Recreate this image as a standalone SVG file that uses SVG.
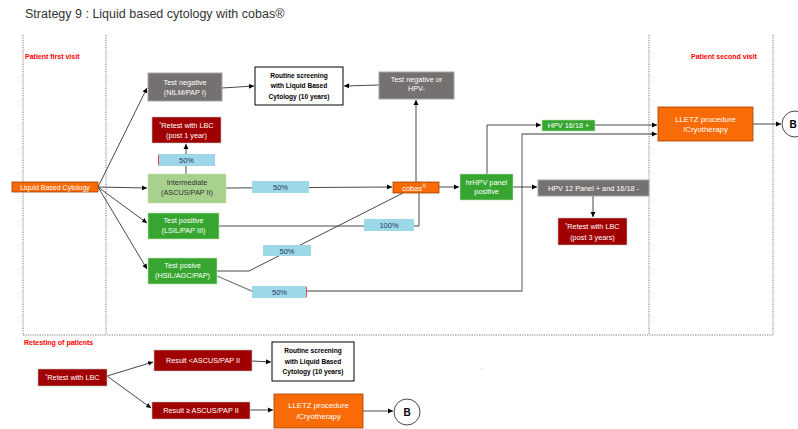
<svg xmlns="http://www.w3.org/2000/svg" width="798" height="429" viewBox="0 0 798 429">
<style>
text{font-family:"Liberation Sans",Arial,sans-serif}
.t{font-size:7.3px;fill:#fff;text-anchor:middle}
.k{font-size:6.6px;fill:#000;font-weight:bold;text-anchor:middle}
.p{font-size:7.5px;fill:#1f3864;text-anchor:middle}
.red{font-size:7px;fill:#ff0000;font-weight:bold}
.gray{fill:#767171;stroke:#a6a6a6;stroke-width:1}
.dred{fill:#a00000;stroke:#c0c0c0;stroke-width:0.6}
.lgrn{fill:#a9d18e;stroke:#c5e0b4;stroke-width:0.6}
.grn{fill:#36a630;stroke:#c5e0b4;stroke-width:0.6}
.org{fill:#f96b07;stroke:#a04000;stroke-width:0.8}
.wht{fill:#fff;stroke:#000;stroke-width:1}
.blu{fill:#9dd8e9}
.dot{fill:none;stroke:#555;stroke-width:0.8;stroke-dasharray:1.2 1.2}
.c{fill:none;stroke:#333;stroke-width:0.9}
.cg{fill:none;stroke:#7f7f7f;stroke-width:1.3}
.a{marker-end:url(#ah)}
</style>
<defs>
<marker id="ah" markerWidth="6" markerHeight="6" refX="5" refY="3" orient="auto" markerUnits="userSpaceOnUse">
<path d="M0,0.5 L5,3 L0,5.5 z" fill="#000"/>
</marker>
</defs>
<rect width="798" height="429" fill="#fff"/>
<text x="25" y="18" style="font-size:12.5px;fill:#333">Strategy 9 : Liquid based cytology with cobas®</text>
<g id="frame">
<line class="dot" x1="23" y1="35" x2="23" y2="335"/>
<line class="dot" x1="106" y1="35" x2="106" y2="335"/>
<line class="dot" x1="649" y1="35" x2="649" y2="335"/>
<line class="dot" x1="773" y1="35" x2="773" y2="335"/>
<line class="dot" x1="23" y1="335" x2="773" y2="335"/>
<text class="red" x="25" y="59">Patient first visit</text>
<text class="red" x="691" y="59">Patient second visit</text>
<text class="red" x="24" y="345">Retesting of patients</text>
<text x="481" y="369" style="font-size:6px;fill:#555">.</text>
</g>
<g id="connectors">
<path class="c a" d="M98,187 L147,88"/>
<path class="c a" d="M98,187 L147,188"/>
<path class="c a" d="M98,187 L147,223"/>
<path class="c a" d="M98,187 L147,269"/>
<path class="c a" d="M222,88 L254,86"/>
<path class="c a" d="M379,85 L344,86"/>
<path class="c a" d="M186,174 L186,144"/>
<path class="c a" d="M226,188 L392,187"/>
<path class="c" d="M219,226 L419,226 L419,193"/>
<path class="c" d="M217,271 L249,271 L403,193"/>
<path class="c a" d="M416,182 L416,100"/>
<path class="c a" d="M439,187 L459,187"/>
<path class="cg" d="M217,276 L252,291 L522,291 L522,134 L652,134"/>
<path class="c a" d="M650,134 L657,134"/>
<path class="c a" d="M487,174 L487,125 L541,125"/>
<path class="c a" d="M595,125 L657,125"/>
<path class="c a" d="M513,187 L537,187"/>
<path class="c a" d="M593,196 L593,217"/>
<path class="c a" d="M753,124 L781,124"/>
<path class="c a" d="M107,376 L153,362"/>
<path class="c a" d="M107,376 L151,408"/>
<path class="c a" d="M252,361 L271,362"/>
<path class="c a" d="M250,410 L273,410"/>
<path class="c a" d="M363,411 L393,411"/>
</g>
<g id="lbc"><rect class="org" x="12" y="182" width="86" height="10"/><text class="t" x="55" y="189.5" style="font-size:7px">Liquid Based Cytology</text></g>
<g id="neg"><rect class="gray" x="148" y="73" width="74" height="28"/><text class="t" x="185" y="85">Test negative</text><text class="t" x="185" y="95">(NILM/PAP I)</text></g>
<g id="routine1"><rect class="wht" x="255" y="67" width="88" height="38"/><text class="k" x="299" y="78">Routine screening</text><text class="k" x="299" y="88">with Liquid Based</text><text class="k" x="299" y="98.5">Cytology (10 years)</text></g>
<g id="neghpv"><rect class="gray" x="379" y="72" width="75" height="27"/><text class="t" x="416.5" y="82">Test negative or</text><text class="t" x="416.5" y="91">HPV-</text></g>
<g id="retest1"><rect class="dred" x="152" y="117" width="69" height="26"/><text class="t" x="186.5" y="128"><tspan font-size="5" dy="-2">*</tspan><tspan dy="2">Retest with LBC</tspan></text><text class="t" x="186.5" y="138">(post 1 year)</text></g>
<g id="p50a"><rect class="blu" x="158" y="154" width="57" height="12"/><line x1="158.5" y1="155" x2="158.5" y2="165" stroke="#e05050" stroke-width="1"/><text class="p" x="186.5" y="163">50%</text></g>
<g id="inter"><rect class="lgrn" x="148" y="174" width="78" height="29"/><text class="t" x="187" y="185" style="fill:#333">Intermediate</text><text class="t" x="187" y="195" style="fill:#333">(ASCUS/PAP II)</text></g>
<g id="lsil"><rect class="grn" x="148" y="213" width="71" height="26"/><text class="t" x="183.5" y="223">Test positive</text><text class="t" x="183.5" y="233">(LSIL/PAP III)</text></g>
<g id="hsil"><rect class="grn" x="148" y="258" width="69" height="26"/><text class="t" x="182.5" y="268">Test posive</text><text class="t" x="182.5" y="278">(HSIL/AGC/PAP)</text></g>
<g id="p50b"><rect class="blu" x="252" y="181" width="57" height="12"/><text class="p" x="280.5" y="190">50%</text></g>
<g id="p100"><rect class="blu" x="364" y="219" width="50" height="12"/><text class="p" x="389" y="228">100%</text></g>
<g id="p50c"><rect class="blu" x="263" y="245" width="48" height="11"/><text class="p" x="287" y="253.5">50%</text></g>
<g id="p50d"><rect class="blu" x="252" y="286" width="55" height="12"/><line x1="306.5" y1="287" x2="306.5" y2="297" stroke="#e05050" stroke-width="1"/><text class="p" x="279.5" y="295">50%</text></g>
<g id="cobas"><rect class="org" x="393" y="182" width="46" height="11"/><text class="t" x="414" y="190.5" style="font-size:7.5px">cobas<tspan font-size="5" dy="-2.5">®</tspan></text></g>
<g id="hrhpv"><rect class="grn" x="460" y="174" width="53" height="26"/><text class="t" x="486.5" y="184.5">hrHPV panel</text><text class="t" x="486.5" y="194">positive</text></g>
<g id="hpv1618"><rect class="grn" x="542" y="120" width="53" height="11"/><text class="t" x="568.5" y="128">HPV 16/18 +</text></g>
<g id="hpv12"><rect class="gray" x="538" y="180" width="111" height="16"/><text class="t" x="593.5" y="190.5">HPV 12 Panel + and 16/18 -</text></g>
<g id="retest3"><rect class="dred" x="558" y="218" width="69" height="27"/><text class="t" x="592.5" y="229"><tspan font-size="5" dy="-2">*</tspan><tspan dy="2">Retest with LBC</tspan></text><text class="t" x="592.5" y="239.5">(post 3 years)</text></g>
<g id="lletz1"><rect class="org" x="658" y="107" width="95" height="34"/><text class="t" x="705.5" y="121.5" style="font-size:7.8px">LLETZ procedure</text><text class="t" x="705.5" y="132" style="font-size:7.8px">/Cryotherapy</text></g>
<g id="b1"><circle cx="795" cy="124" r="13" fill="#fff" stroke="#333" stroke-width="0.9"/><text x="793" y="128" style="font-size:10px;font-weight:bold;fill:#000;text-anchor:middle">B</text></g>
<g id="retest"><rect class="dred" x="38" y="369" width="69" height="17"/><text class="t" x="72.5" y="380"><tspan font-size="5" dy="-2">*</tspan><tspan dy="2">Retest with LBC</tspan></text></g>
<g id="resless"><rect class="dred" x="154" y="350" width="98" height="21"/><text class="t" x="203" y="363">Result &lt;ASCUS/PAP II</text></g>
<g id="routine2"><rect class="wht" x="272" y="342" width="82" height="39"/><text class="k" x="313" y="353">Routine screening</text><text class="k" x="313" y="363.5">with Liquid Based</text><text class="k" x="313" y="374">Cytology (10 years)</text></g>
<g id="resge"><rect class="dred" x="152" y="402" width="98" height="17"/><text class="t" x="201" y="413">Result ≥ ASCUS/PAP II</text></g>
<g id="lletz2"><rect class="org" x="274" y="394" width="89" height="34"/><text class="t" x="318.5" y="408" style="font-size:7.8px">LLETZ procedure</text><text class="t" x="318.5" y="419" style="font-size:7.8px">/Cryotherapy</text></g>
<g id="b2"><circle cx="407" cy="412" r="13" fill="#fff" stroke="#333" stroke-width="0.9"/><text x="407" y="416" style="font-size:10px;font-weight:bold;fill:#000;text-anchor:middle">B</text></g>
</svg>
